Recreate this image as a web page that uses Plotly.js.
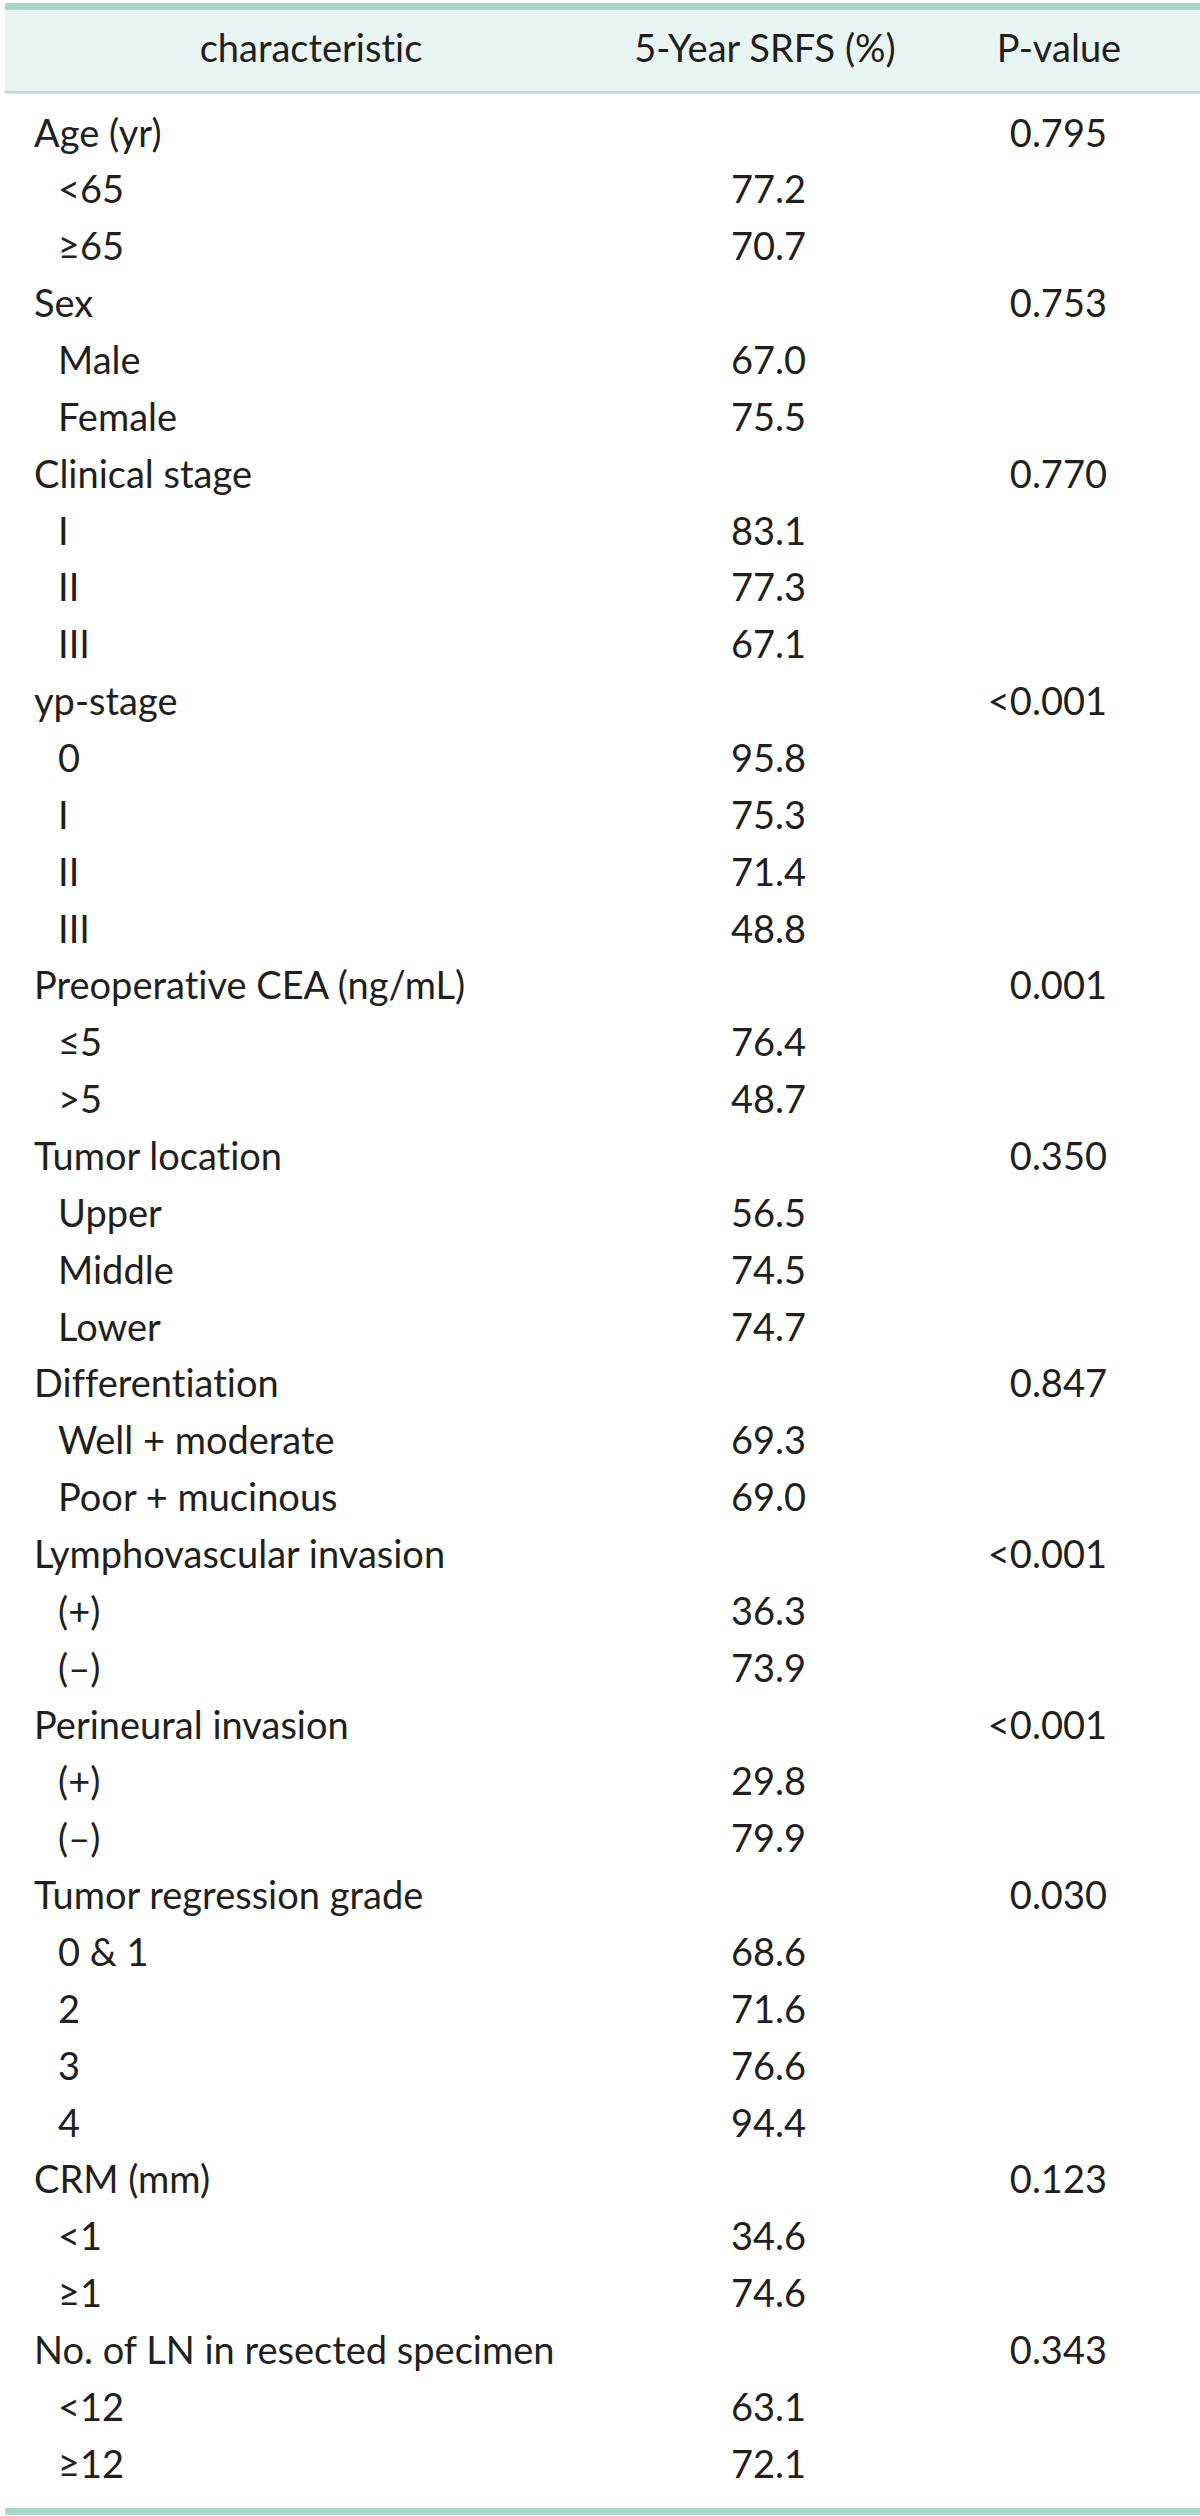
<!DOCTYPE html>
<html>
<head>
<meta charset="utf-8">
<script src="https://cdn.plot.ly/plotly-3.0.1.min.js"></script>
<style>
html,body{margin:0;padding:0;background:#fff;}
#chart{width:1200px;height:2516px;}
#chart text{font-variant-ligatures:none;font-feature-settings:"liga" 0, "clig" 0;}
</style>
</head>
<body>
<div id="chart"></div>
<script>
// ---- data ----
const headers = ["characteristic", "5-Year SRFS (%)", "P-value"];
const groupNames = [
  "Age (yr)", "Sex", "Clinical stage", "yp-stage", "Preoperative CEA (ng/mL)",
  "Tumor location", "Differentiation", "Lymphovascular invasion",
  "Perineural invasion", "Tumor regression grade", "CRM (mm)",
  "No. of LN in resected specimen"
];
const pValues = ["0.795", "0.753", "0.770", "<0.001", "0.001", "0.350",
  "0.847", "<0.001", "<0.001", "0.030", "0.123", "0.343"];
const levels = [
  ["<65", "≥65"],
  ["Male", "Female"],
  ["I", "II", "III"],
  ["0", "I", "II", "III"],
  ["≤5", ">5"],
  ["Upper", "Middle", "Lower"],
  ["Well + moderate", "Poor + mucinous"],
  ["(+)", "(–)"],
  ["(+)", "(–)"],
  ["0 & 1", "2", "3", "4"],
  ["<1", "≥1"],
  ["<12", "≥12"]
];
const srfs = [
  ["77.2", "70.7"],
  ["67.0", "75.5"],
  ["83.1", "77.3", "67.1"],
  ["95.8", "75.3", "71.4", "48.8"],
  ["76.4", "48.7"],
  ["56.5", "74.5", "74.7"],
  ["69.3", "69.0"],
  ["36.3", "73.9"],
  ["29.8", "79.9"],
  ["68.6", "71.6", "76.6", "94.4"],
  ["34.6", "74.6"],
  ["63.1", "72.1"]
];

// ---- layout constants ----
const W = 1200, H = 2516;
const FONT = "Lato, 'Open Sans', sans-serif";
const FS = 38;
const TXT = "#231f20";
const firstRowY = 137, pitch = 56.86;
const xGroup = 34, xLevel = 58, xVal = 806, xP = 1107;
const headerY = 52;
const headerX = [311, 765, 1059];

// build rows
const labX = [], labY = [], labT = [];
const valX = [], valY = [], valT = [];
const pX = [], pY = [], pT = [];
let r = 0;
groupNames.forEach((g, gi) => {
  const y0 = firstRowY + pitch * r;
  labX.push(xGroup); labY.push(y0); labT.push(g);
  pX.push(xP); pY.push(y0); pT.push(pValues[gi]);
  r++;
  levels[gi].forEach((lv, li) => {
    const y = firstRowY + pitch * r;
    labX.push(xLevel); labY.push(y); labT.push(lv);
    valX.push(xVal); valY.push(y); valT.push(srfs[gi][li]);
    r++;
  });
});

const font = {family: FONT, size: FS, color: TXT};
const traces = [
  {type: "scatter", mode: "text", x: headerX, y: headers.map(() => headerY), text: headers,
   textposition: "middle center", textfont: font, hoverinfo: "skip", showlegend: false},
  {type: "scatter", mode: "text", x: labX, y: labY, text: labT,
   textposition: "middle right", textfont: font, hoverinfo: "skip", showlegend: false},
  {type: "scatter", mode: "text", x: valX, y: valY, text: valT,
   textposition: "middle left", textfont: font, hoverinfo: "skip", showlegend: false},
  {type: "scatter", mode: "text", x: pX, y: pY, text: pT,
   textposition: "middle left", textfont: font, hoverinfo: "skip", showlegend: false}
];

const shapes = [
  {type: "rect", xref: "x", yref: "y", x0: 5, x1: W, y0: 10, y1: 92, fillcolor: "#e8f5f2", line: {width: 0}, layer: "below"},
  {type: "rect", xref: "x", yref: "y", x0: 5, x1: W, y0: 3, y1: 10, fillcolor: "#a4d9cc", line: {width: 0}, layer: "below"},
  {type: "rect", xref: "x", yref: "y", x0: 5, x1: W, y0: 91, y1: 93.5, fillcolor: "#b0ddd2", line: {width: 0}, layer: "below"},
  {type: "rect", xref: "x", yref: "y", x0: 5, x1: W, y0: 2508, y1: 2515, fillcolor: "#a4d9cc", line: {width: 0}, layer: "below"}
];

const layout = {
  width: W, height: H,
  margin: {l: 0, r: 0, t: 0, b: 0, pad: 0},
  paper_bgcolor: "#ffffff", plot_bgcolor: "#ffffff",
  xaxis: {range: [0, W], visible: false, fixedrange: true},
  yaxis: {range: [H, 0], visible: false, fixedrange: true},
  shapes: shapes,
  showlegend: false
};

Plotly.newPlot("chart", traces, layout, {staticPlot: true, displayModeBar: false});
</script>
</body>
</html>
